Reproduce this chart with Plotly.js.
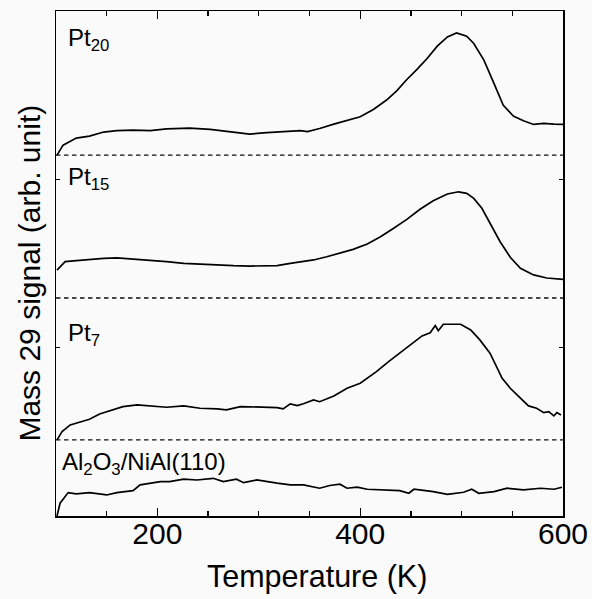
<!DOCTYPE html>
<html>
<head>
<meta charset="utf-8">
<script src="https://cdn.plot.ly/plotly-3.0.1.min.js"></script>
<style>html,body{margin:0;padding:0;background:#fafafa;}#chart{width:592px;height:599px;}</style>
</head>
<body>
<div id="chart"></div>
<script>
// Temperature (K) and signal (arb. unit, above each trace's baseline)
const tempPt20 = [101,107,120,133,147,160,176,193,209,232,252,275,291,308,324,341,348,360,374,387,400,413,426,436,446,456,466,476,486,495,505,512,522,532,541,551,561,571,581,591,600];
const sigPt20 = [0,0.059,0.101,0.113,0.137,0.145,0.148,0.145,0.156,0.160,0.153,0.138,0.125,0.133,0.138,0.145,0.140,0.158,0.184,0.204,0.228,0.271,0.327,0.382,0.449,0.509,0.574,0.647,0.702,0.726,0.706,0.663,0.564,0.425,0.297,0.232,0.204,0.182,0.188,0.184,0.182];

const tempPt15 = [101,109,120,133,147,160,173,193,209,226,242,259,275,291,308,318,331,344,354,367,380,393,407,420,433,446,459,472,486,497,505,512,520,528,538,548,558,571,584,600];
const sigPt15 = [0.166,0.216,0.222,0.230,0.236,0.238,0.233,0.226,0.216,0.206,0.200,0.196,0.192,0.190,0.190,0.192,0.206,0.215,0.226,0.245,0.265,0.289,0.321,0.364,0.414,0.467,0.527,0.578,0.618,0.631,0.622,0.592,0.533,0.444,0.334,0.242,0.176,0.137,0.119,0.111];

const tempPt7 = [101,106,114,124,133,143,153,166,180,193,209,226,242,259,268,282,298,318,324,331,338,344,354,360,374,387,400,407,416,428,439,449,461,469,474,477,482,499,509,518,528,540,548,558,566,574,581,586,591,594,598];
const sigPt7 = [0,0.049,0.089,0.109,0.123,0.154,0.172,0.198,0.208,0.202,0.194,0.202,0.188,0.184,0.178,0.198,0.194,0.192,0.184,0.214,0.204,0.215,0.238,0.227,0.261,0.307,0.337,0.366,0.406,0.465,0.515,0.558,0.618,0.637,0.679,0.649,0.687,0.687,0.653,0.594,0.515,0.366,0.307,0.248,0.202,0.188,0.162,0.168,0.143,0.162,0.148];

const tempAl = [101,104,112,120,133,150,160,176,183,196,203,212,226,239,255,265,278,285,298,318,331,344,354,360,370,380,387,397,407,423,439,448,453,472,486,502,510,517,532,545,561,578,591,599];
const sigAl = [0,0.076,0.139,0.131,0.139,0.125,0.139,0.151,0.185,0.195,0.204,0.204,0.219,0.214,0.224,0.204,0.219,0.198,0.214,0.195,0.185,0.185,0.175,0.165,0.181,0.189,0.165,0.171,0.159,0.155,0.151,0.135,0.159,0.145,0.129,0.141,0.159,0.135,0.145,0.165,0.155,0.165,0.159,0.171];

const seriesLabels = ['Pt<sub>20</sub>','Pt<sub>15</sub>','Pt<sub>7</sub>','Al<sub>2</sub>O<sub>3</sub>/NiAl(110)'];
const baselines = [2.144, 1.295, 0.452, 0];
const labelY = [2.83, 2.005, 1.08, 0.31];
const labelX = [110, 110, 110, 104];
const xTicks = [200, 400, 600];
const xRange = [100, 600];
const xTitle = 'Temperature (K)';
const yTitle = 'Mass 29 signal (arb. unit)';

const temps = [tempPt20, tempPt15, tempPt7, tempAl];
const sigs = [sigPt20, sigPt15, sigPt7, sigAl];

const FONT = 'Arial, Liberation Sans, sans-serif';
const traces = [];
for (let i = 0; i < 4; i++) {
  if (i < 3) {
    traces.push({x: xRange, y: [baselines[i], baselines[i]], mode: 'lines',
      line: {color: '#111', width: 1.4, dash: '4.5px,3.5px'}, hoverinfo: 'skip', showlegend: false});
  }
  traces.push({x: temps[i], y: sigs[i].map(v => v + baselines[i]), mode: 'lines',
    line: {color: '#000', width: 1.7}, showlegend: false});
}

const annotations = seriesLabels.map((t, i) => ({
  x: labelX[i], y: labelY[i], xref: 'x', yref: 'y', text: t, showarrow: false,
  xanchor: 'left', yanchor: 'middle', font: {size: 24, color: '#000', family: FONT}
}));
annotations.push({x: 0.514, y: -0.1205, xref: 'paper', yref: 'paper', text: xTitle, showarrow: false,
  xanchor: 'center', yanchor: 'middle', font: {size: 30.5, color: '#000', family: FONT}});
annotations.push({x: -0.0513, y: 0.482, xref: 'paper', yref: 'paper', text: yTitle, showarrow: false,
  textangle: -90, xanchor: 'center', yanchor: 'middle', font: {size: 30, color: '#000', family: FONT}});

const layout = {
  width: 592, height: 599,
  margin: {l: 56, r: 29, t: 11, b: 83},
  paper_bgcolor: '#fafafa', plot_bgcolor: '#fafafa',
  font: {family: FONT, color: '#000'},
  showlegend: false,
  xaxis: {
    range: xRange, tickvals: xTicks, ticks: 'inside', ticklen: 8, tickwidth: 1.3, tickcolor: '#000',
    showline: true, linecolor: '#000', linewidth: 1.5, mirror: 'ticks', showgrid: false, zeroline: false,
    tickfont: {size: 30}, ticklabelstandoff: -10,
    minor: {dtick: 50, tick0: 0, ticks: 'inside', ticklen: 5, tickwidth: 1.3, tickcolor: '#000', showgrid: false}
  },
  yaxis: {
    range: [0, 3], tickvals: [0, 1, 2, 3], ticks: 'inside', ticklen: 4, tickwidth: 1.3, tickcolor: '#000',
    showticklabels: false, showline: true, linecolor: '#000', linewidth: 1.5, mirror: 'ticks',
    showgrid: false, zeroline: false
  },
  annotations: annotations
};

Plotly.newPlot('chart', traces, layout, {staticPlot: true, displayModeBar: false});
</script>
</body>
</html>
